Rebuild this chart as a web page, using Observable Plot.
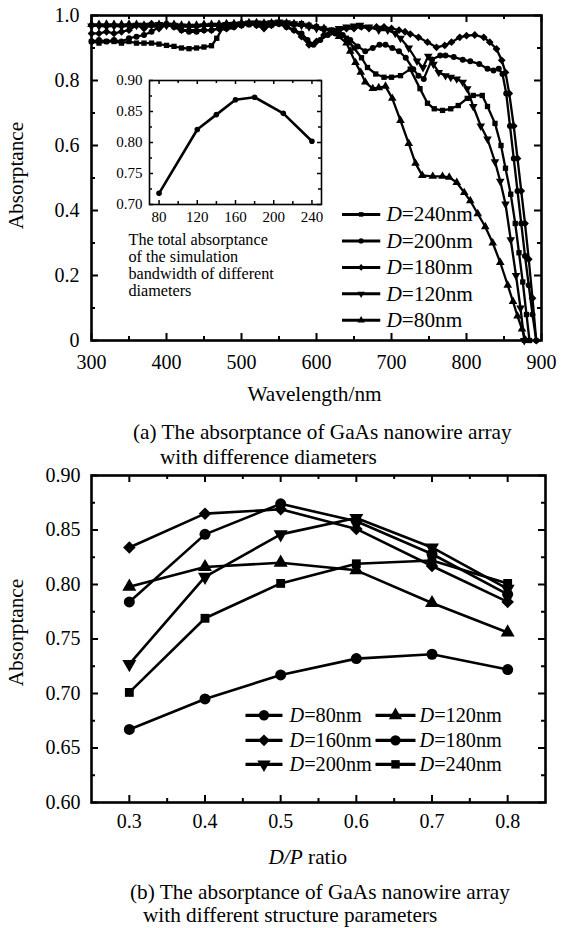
<!DOCTYPE html>
<html><head><meta charset="utf-8">
<script src="https://cdn.jsdelivr.net/npm/d3@7"></script>
<script src="https://cdn.jsdelivr.net/npm/@observablehq/plot@0.6"></script>
<style>
body{margin:0;background:#fff;}
#wrap{position:relative;width:571px;height:928px;overflow:hidden;background:#fff;color:#000;}
#wrap svg{position:absolute;overflow:visible;}
.cap{position:absolute;white-space:nowrap;}
</style></head><body><div id="wrap"></div>
<script>
// ---------- Panel (a): absorptance spectra ----------
const wl240 = [300,310,320,330,340,350,360,370,380,390,400,410,420,430,440,450,460,467,475,485,500,510,520,530,540,550,560,570,580,590,600,610,620,630,640,650,660,668,679,690,700,712,725,738,748,757,768,779,789,801,809,821,828,838,846,852,859,865,870,875,880,884];
const ab240 = [0.92,0.915,0.92,0.92,0.915,0.92,0.915,0.915,0.915,0.912,0.908,0.905,0.9,0.898,0.9,0.903,0.907,0.93,0.962,0.965,0.97,0.972,0.975,0.97,0.972,0.975,0.97,0.972,0.975,0.97,0.965,0.96,0.955,0.945,0.93,0.9,0.87,0.84,0.82,0.81,0.81,0.815,0.835,0.775,0.73,0.713,0.708,0.713,0.723,0.745,0.754,0.754,0.72,0.668,0.6,0.53,0.45,0.36,0.27,0.18,0.08,0];
const wl200 = [300,310,320,330,340,350,360,370,380,390,400,410,420,430,440,450,460,470,480,490,500,510,520,530,540,550,560,570,580,588,596,605,615,625,635,645,655,665,675,684,692,701,710,719,729,736,743,754,765,772,783,795,805,817,828,836,843,848,853,858,863,868,873,878,883,888,893];
const ab200 = [0.92,0.925,0.92,0.925,0.92,0.93,0.935,0.94,0.95,0.965,0.975,0.965,0.955,0.95,0.95,0.955,0.955,0.96,0.96,0.965,0.97,0.975,0.97,0.965,0.97,0.975,0.965,0.955,0.945,0.925,0.91,0.925,0.94,0.945,0.94,0.925,0.905,0.89,0.9,0.91,0.91,0.9,0.89,0.87,0.835,0.815,0.805,0.865,0.877,0.877,0.872,0.864,0.859,0.851,0.836,0.831,0.836,0.82,0.76,0.66,0.56,0.46,0.36,0.26,0.17,0.08,0];
const wl180 = [300,310,320,330,340,350,360,370,380,390,400,410,420,430,440,450,460,470,480,490,500,510,520,530,540,550,560,570,580,590,600,610,620,630,640,650,660,670,680,690,700,710,718,725,736,748,760,771,780,791,800,811,823,831,840,847,852,857,863,868,873,878,883,888,893];
const ab180 = [0.945,0.945,0.95,0.945,0.95,0.955,0.97,0.96,0.975,0.96,0.97,0.965,0.955,0.955,0.955,0.955,0.955,0.96,0.96,0.965,0.97,0.975,0.97,0.96,0.97,0.975,0.965,0.955,0.935,0.91,0.92,0.94,0.95,0.955,0.96,0.96,0.965,0.96,0.965,0.965,0.96,0.955,0.95,0.943,0.933,0.918,0.902,0.908,0.918,0.933,0.938,0.94,0.933,0.918,0.897,0.862,0.825,0.76,0.66,0.56,0.46,0.36,0.25,0.13,0];
const wl120 = [300,310,320,330,340,350,360,370,380,390,400,410,420,430,440,450,460,470,480,490,500,510,520,530,540,550,560,570,580,590,600,610,620,630,640,650,658,670,683,695,705,712,723,734,742,749,756,763,772,779,787,795,801,809,819,828,838,845,852,859,866,872,877];
const ab120 = [0.968,0.968,0.966,0.968,0.966,0.968,0.97,0.97,0.97,0.972,0.97,0.97,0.968,0.967,0.967,0.968,0.97,0.97,0.972,0.973,0.975,0.977,0.977,0.976,0.978,0.98,0.978,0.975,0.97,0.965,0.96,0.955,0.955,0.96,0.965,0.968,0.97,0.965,0.955,0.955,0.945,0.93,0.9,0.86,0.84,0.875,0.85,0.825,0.815,0.81,0.805,0.795,0.775,0.72,0.66,0.62,0.55,0.49,0.42,0.31,0.2,0.1,0];
const wl80 = [300,310,320,330,340,350,360,370,380,390,400,410,420,430,440,450,460,470,480,490,500,510,520,530,540,550,560,570,580,590,600,610,620,630,640,645,652,659,665,675,683,692,701,712,723,732,741,755,768,777,787,797,805,815,825,835,845,855,862,868,874,879];
const ab80 = [0.972,0.972,0.973,0.972,0.972,0.973,0.972,0.97,0.97,0.972,0.973,0.972,0.97,0.97,0.97,0.972,0.972,0.973,0.975,0.975,0.977,0.978,0.978,0.976,0.977,0.978,0.977,0.975,0.972,0.968,0.965,0.96,0.95,0.935,0.915,0.89,0.855,0.825,0.795,0.775,0.778,0.782,0.745,0.677,0.606,0.545,0.508,0.505,0.505,0.502,0.486,0.455,0.43,0.39,0.35,0.3,0.24,0.17,0.12,0.075,0.035,0];

// Inset: total absorptance vs diameter
const insetD = [80,120,140,160,180,210,240];
const insetA = [0.718,0.821,0.845,0.869,0.873,0.847,0.802];
const insetNote = "The total absorptance\nof the simulation\nbandwidth of different\ndiameters";

// ---------- Panel (b): absorptance vs D/P ----------
const dp = [0.3,0.4,0.5,0.6,0.7,0.8];
const b80  = [0.667,0.695,0.717,0.732,0.736,0.722];
const b120 = [0.798,0.816,0.820,0.813,0.783,0.756];
const b160 = [0.834,0.865,0.869,0.851,0.817,0.784];
const b180 = [0.784,0.846,0.874,0.858,0.828,0.791];
const b200 = [0.727,0.807,0.846,0.861,0.834,0.796];
const b240 = [0.701,0.769,0.801,0.819,0.822,0.801];

// tick labels
const xTickA = [300,400,500,600,700,800,900];
const xMinorA = [350,450,550,650,750,850];
const yTickA = [0,0.2,0.4,0.6,0.8,1.0];
const yMinorA = [0.1,0.3,0.5,0.7,0.9];
const xTickIn = [80,120,160,200,240];
const xMinorIn = [100,140,180,220];
const yTickIn = [0.70,0.75,0.80,0.85,0.90];
const yMinorIn = [0.725,0.775,0.825,0.875];
const xTickB = [0.3,0.4,0.5,0.6,0.7,0.8];
const xMinorB = [0.35,0.45,0.55,0.65,0.75];
const yTickB = [0.60,0.65,0.70,0.75,0.80,0.85,0.90];
const yMinorB = [0.625,0.675,0.725,0.775,0.825,0.875];

const FONT = '"Liberation Serif", "Times New Roman", Tinos, "Nimbus Roman", "DejaVu Serif", serif';
const wrap = document.getElementById("wrap");
wrap.style.fontFamily = FONT;

// font-size adaptation: match Times-like widths with whatever serif is installed
const ctx = document.createElement("canvas").getContext("2d");
function w100(s, it) { ctx.font = (it ? "italic " : "") + "100px " + FONT; return ctx.measureText(s).width; }
const kText = w100("Wavelength/nm") / 638.8;
const kNum = w100("0123456789") / 500;
const fsT = s => +(s / kText).toFixed(2);   // text sizes
const fsN = s => +(s / kNum).toFixed(2);    // numeric tick sizes
const dW = (size) => w100("D", true) * size / 100; // italic D advance

function frameTicks(xs, ys, fw, fh, len, sw) {
  return [
    Plot.ruleX(xs, {x: d => d, insetTop: fh - len, strokeWidth: sw, stroke: "#000"}),
    Plot.ruleX(xs, {x: d => d, insetBottom: fh - len, strokeWidth: sw, stroke: "#000"}),
    Plot.ruleY(ys, {y: d => d, insetRight: fw - len, strokeWidth: sw, stroke: "#000"}),
    Plot.ruleY(ys, {y: d => d, insetLeft: fw - len, strokeWidth: sw, stroke: "#000"})
  ];
}

// ---- Panel (a) ----
const seriesA = [
  {D: 240, wl: wl240, ab: ab240, sym: "square", r: 3.0, rot: 0},
  {D: 200, wl: wl200, ab: ab200, sym: "circle", r: 3.0, rot: 0},
  {D: 180, wl: wl180, ab: ab180, sym: "square", r: 3.1, rot: 45},
  {D: 120, wl: wl120, ab: ab120, sym: "triangle", r: 3.2, rot: 180},
  {D: 80,  wl: wl80,  ab: ab80,  sym: "triangle", r: 3.2, rot: 0}
];
const legA = {x1: 634, x2: 685, xt: 693.3, y0: 0.388, step: 0.0815, fs: fsT(21)};
const marksA = [];
for (const s of seriesA) {
  const rows = s.wl.map((w, i) => ({wl: w, ab: s.ab[i]}));
  marksA.push(Plot.line(rows, {x: "wl", y: "ab", stroke: "#000", strokeWidth: 2.3, strokeLinejoin: "round"}));
}
for (const s of seriesA) {
  const rows = s.wl.map((w, i) => ({wl: w, ab: s.ab[i]}));
  marksA.push(Plot.dot(rows, {x: "wl", y: "ab", symbol: s.sym, r: s.r, rotate: s.rot, fill: "#000", stroke: "none"}));
}
seriesA.forEach((s, i) => {
  const row = [{D: s.D, y: legA.y0 - i * legA.step}];
  marksA.push(Plot.link(row, {x1: () => legA.x1, x2: () => legA.x2, y1: "y", y2: "y", stroke: "#000", strokeWidth: 3}));
  marksA.push(Plot.dot(row, {x: () => (legA.x1 + legA.x2) / 2, y: "y", symbol: s.sym, r: s.r * 0.85, rotate: s.rot, fill: "#000", stroke: "none"}));
  marksA.push(Plot.text(row, {x: () => legA.xt, y: "y", text: () => "D", fontStyle: "italic", fontSize: legA.fs, textAnchor: "start", lineAnchor: "middle"}));
  marksA.push(Plot.text(row, {x: () => legA.xt, y: "y", text: d => "=" + d.D + "nm", dx: dW(legA.fs), fontSize: legA.fs, textAnchor: "start", lineAnchor: "middle"}));
});

const plotA = Plot.plot({
  width: 571, height: 410,
  marginLeft: 91, marginRight: 30, marginTop: 15, marginBottom: 70,
  style: {fontFamily: FONT, fontSize: fsN(20) + "px", color: "#000", background: "transparent", overflow: "visible"},
  x: {domain: [300, 900], label: null},
  y: {domain: [0, 1], label: null},
  marks: [
    ...frameTicks(xTickA, yTickA, 450, 325, 7, 2),
    ...frameTicks(xMinorA, yMinorA, 450, 325, 4, 2),
    Plot.axisX({ticks: xTickA, tickSize: 0, tickPadding: 14, tickFormat: d => String(d), label: null, fontSize: fsN(20)}),
    Plot.axisY({ticks: yTickA, tickSize: 0, tickPadding: 12, tickFormat: d => d === 0 ? "0" : d.toFixed(1), label: null, fontSize: fsN(20)}),
    ...marksA,
    Plot.frame({stroke: "#000", strokeWidth: 2.6}),
    Plot.text(["Absorptance"], {frameAnchor: "left", dx: -75.5, dy: -2.5, rotate: -90, fontSize: fsT(21), lineAnchor: "middle", textAnchor: "middle"}),
    Plot.text(["Wavelength/nm"], {frameAnchor: "bottom-left", dx: 223, dy: 54, fontSize: fsT(21), lineAnchor: "middle", textAnchor: "middle"})
  ]
});
plotA.style.left = "0px"; plotA.style.top = "0px";
wrap.appendChild(plotA);

// ---- Inset ----
const insetRows = insetD.map((d, i) => ({D: d, A: insetA[i]}));
const plotIn = Plot.plot({
  width: 230, height: 200,
  marginLeft: 49, marginRight: 9, marginTop: 10, marginBottom: 66,
  style: {fontFamily: FONT, fontSize: fsN(15) + "px", color: "#000", background: "transparent", overflow: "visible"},
  x: {domain: [70, 250], label: null},
  y: {domain: [0.70, 0.90], label: null},
  marks: [
    ...frameTicks(xTickIn, yTickIn, 172, 124, 4, 1.5),
    ...frameTicks(xMinorIn, yMinorIn, 172, 124, 3, 1.5),
    Plot.axisX({ticks: xTickIn, tickSize: 0, tickPadding: 7, tickFormat: d => String(d), label: null, fontSize: fsN(15)}),
    Plot.axisY({ticks: yTickIn, tickSize: 0, tickPadding: 7, tickFormat: d => d.toFixed(2), label: null, fontSize: fsN(15)}),
    Plot.line(insetRows, {x: "D", y: "A", stroke: "#000", strokeWidth: 2.6}),
    Plot.dot(insetRows, {x: "D", y: "A", r: 2.8, fill: "#000", stroke: "none"}),
    Plot.frame({stroke: "#000", strokeWidth: 1.6}),
    Plot.text([insetNote], {frameAnchor: "bottom-left", dx: -21, dy: 28, fontSize: fsT(16), lineHeight: 17.2 / fsT(16), textAnchor: "start", lineAnchor: "top"})
  ]
});
plotIn.style.left = "100px"; plotIn.style.top = "70px";
wrap.appendChild(plotIn);

// ---- Panel (b) ----
const seriesB = [
  {D: 80,  v: b80,  sym: "circle",   r: 5.5, rot: 0},
  {D: 120, v: b120, sym: "triangle", r: 5.2, rot: 0},
  {D: 160, v: b160, sym: "square",   r: 5.0, rot: 45},
  {D: 180, v: b180, sym: "circle",   r: 5.5, rot: 0},
  {D: 200, v: b200, sym: "triangle", r: 5.2, rot: 180},
  {D: 240, v: b240, sym: "square",   r: 5.0, rot: 0}
];
const legB = {cols: [[0.4535, 0.5024, 0.5117], [0.6253, 0.6782, 0.6835]], rows: [0.680, 0.657, 0.635], fs: fsT(20)};
const marksB = [];
for (const s of seriesB) {
  const rows = dp.map((x, i) => ({dp: x, v: s.v[i]}));
  marksB.push(Plot.line(rows, {x: "dp", y: "v", stroke: "#000", strokeWidth: 2.6, strokeLinejoin: "round"}));
}
for (const s of seriesB) {
  const rows = dp.map((x, i) => ({dp: x, v: s.v[i]}));
  marksB.push(Plot.dot(rows, {x: "dp", y: "v", symbol: s.sym, r: s.r, rotate: s.rot, fill: "#000", stroke: "none"}));
}
seriesB.forEach((s, i) => {
  const c = legB.cols[i % 2];
  const row = [{D: s.D, y: legB.rows[Math.floor(i / 2)]}];
  marksB.push(Plot.link(row, {x1: () => c[0], x2: () => c[1], y1: "y", y2: "y", stroke: "#000", strokeWidth: 3.2}));
  marksB.push(Plot.dot(row, {x: () => (c[0] + c[1]) / 2, y: "y", symbol: s.sym, r: s.r * 0.95, rotate: s.rot, fill: "#000", stroke: "none"}));
  marksB.push(Plot.text(row, {x: () => c[2], y: "y", text: () => "D", fontStyle: "italic", fontSize: legB.fs, textAnchor: "start", lineAnchor: "middle"}));
  marksB.push(Plot.text(row, {x: () => c[2], y: "y", text: d => "=" + d.D + "nm", dx: dW(legB.fs), fontSize: legB.fs, textAnchor: "start", lineAnchor: "middle"}));
});

const dpW = w100("D/P", true) * fsT(21) / 100;
const spW = w100(" ") * fsT(21) / 100;
const plotB = Plot.plot({
  width: 571, height: 440,
  marginLeft: 91, marginRight: 26, marginTop: 35, marginBottom: 78,
  style: {fontFamily: FONT, fontSize: fsN(20) + "px", color: "#000", background: "transparent", overflow: "visible"},
  x: {domain: [0.25, 0.85], label: null},
  y: {domain: [0.60, 0.90], label: null},
  marks: [
    ...frameTicks(xTickB, yTickB, 454, 327, 7, 2),
    ...frameTicks(xMinorB, yMinorB, 454, 327, 4, 2),
    Plot.axisX({ticks: xTickB, tickSize: 0, tickPadding: 11, tickFormat: d => d.toFixed(1), label: null, fontSize: fsN(20)}),
    Plot.axisY({ticks: yTickB, tickSize: 0, tickPadding: 11, tickFormat: d => d.toFixed(2), label: null, fontSize: fsN(20)}),
    ...marksB,
    Plot.frame({stroke: "#000", strokeWidth: 2.6}),
    Plot.text(["Absorptance"], {frameAnchor: "left", dx: -75.5, dy: -6.5, rotate: -90, fontSize: fsT(21), lineAnchor: "middle", textAnchor: "middle"}),
    Plot.text(["D/P"], {frameAnchor: "bottom-left", dx: 177, dy: 54.5, fontSize: fsT(21), fontStyle: "italic", lineAnchor: "middle", textAnchor: "start"}),
    Plot.text(["ratio"], {frameAnchor: "bottom-left", dx: 177 + dpW + spW, dy: 54.5, fontSize: fsT(21), lineAnchor: "middle", textAnchor: "start"})
  ]
});
plotB.style.left = "0px"; plotB.style.top = "440px";
wrap.appendChild(plotB);

// ---- Captions (x = left edge, y = baseline) ----
const capFs = fsT(21);
const captions = [
  {t: "(a) The absorptance of GaAs nanowire array", x: 133, y: 440},
  {t: "with difference diameters", x: 160, y: 465},
  {t: "(b) The absorptance of GaAs nanowire array", x: 130, y: 900},
  {t: "with different structure parameters", x: 143, y: 923}
];
for (const c of captions) {
  const d = document.createElement("div");
  d.className = "cap";
  d.textContent = c.t;
  d.style.fontSize = capFs + "px";
  d.style.lineHeight = capFs + "px";
  d.style.left = c.x + "px";
  d.style.top = (c.y - capFs * 0.84) + "px";
  wrap.appendChild(d);
}
</script></body></html>
